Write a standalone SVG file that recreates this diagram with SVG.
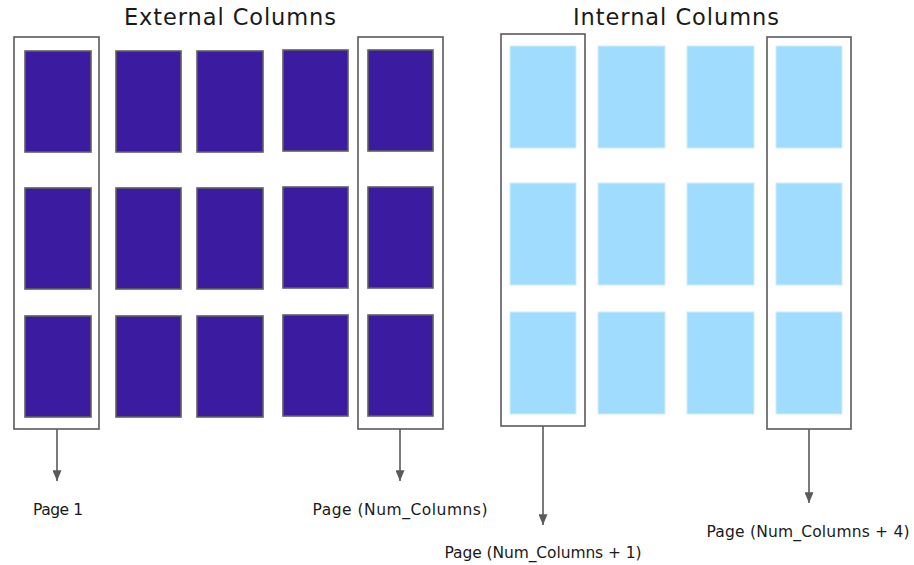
<svg xmlns="http://www.w3.org/2000/svg" width="914" height="565" viewBox="0 0 914 565">
  <defs>
    <style>
      .title { font-family: "DejaVu Sans", "Liberation Sans", sans-serif; font-size: 22.5px; fill: #1a1a1a; }
      .label { font-family: "DejaVu Sans", "Liberation Sans", sans-serif; font-size: 15.5px; fill: #1a1a1a; }
      .frame { fill: none; stroke: #5a5a5a; stroke-width: 1.6; }
      .ext { fill: #3b1ca0; stroke: #5f5f5f; stroke-width: 1.6; }
      .int { fill: #9fdcfd; stroke: #cfeefd; stroke-width: 1; }
      .link { stroke: #5a5a5a; stroke-width: 1.6; fill: none; marker-end: url(#arrow); }
    </style>
    <marker id="arrow" viewBox="0 0 12 10" refX="12" refY="5" markerWidth="12" markerHeight="9" markerUnits="userSpaceOnUse" orient="auto">
      <path d="M0,0 L12,5 L0,10 z" fill="#5a5a5a"/>
    </marker>
  </defs>

  <!-- External columns -->
  <text class="title" x="230" y="25" text-anchor="middle" textLength="212">External Columns</text>
  <g id="external-pages">
    <rect class="ext" x="25" y="51" width="66" height="101"/>
    <rect class="ext" x="116" y="51" width="65" height="101"/>
    <rect class="ext" x="197" y="51" width="66" height="101"/>
    <rect class="ext" x="283" y="50" width="65" height="101"/>
    <rect class="ext" x="368" y="50" width="65" height="101"/>

    <rect class="ext" x="25" y="188" width="66" height="101"/>
    <rect class="ext" x="116" y="188" width="65" height="101"/>
    <rect class="ext" x="197" y="188" width="66" height="101"/>
    <rect class="ext" x="283" y="187" width="65" height="101"/>
    <rect class="ext" x="368" y="187" width="65" height="101"/>

    <rect class="ext" x="25" y="316" width="66" height="101"/>
    <rect class="ext" x="116" y="316" width="65" height="101"/>
    <rect class="ext" x="197" y="316" width="66" height="101"/>
    <rect class="ext" x="283" y="315" width="65" height="101"/>
    <rect class="ext" x="368" y="315" width="65" height="101"/>
  </g>
  <g id="external-first">
    <rect class="frame" x="14" y="37" width="85" height="392"/>
    <text class="label" x="58" y="515" text-anchor="middle" textLength="50">Page 1</text>
  </g>
  <g id="external-last">
    <rect class="frame" x="358" y="37" width="85" height="392"/>
    <text class="label" x="400" y="515" text-anchor="middle" textLength="175">Page (Num_Columns)</text>
  </g>

  <!-- Internal columns -->
  <text class="title" x="676" y="25" text-anchor="middle" textLength="206">Internal Columns</text>
  <g id="internal-pages">
    <rect class="int" x="510" y="46" width="66" height="102"/>
    <rect class="int" x="598" y="46" width="67" height="102"/>
    <rect class="int" x="687" y="46" width="67" height="102"/>
    <rect class="int" x="776" y="46" width="66" height="102"/>

    <rect class="int" x="510" y="183" width="66" height="102"/>
    <rect class="int" x="598" y="183" width="67" height="102"/>
    <rect class="int" x="687" y="183" width="67" height="102"/>
    <rect class="int" x="776" y="183" width="66" height="102"/>

    <rect class="int" x="510" y="312" width="66" height="102"/>
    <rect class="int" x="598" y="312" width="67" height="102"/>
    <rect class="int" x="687" y="312" width="67" height="102"/>
    <rect class="int" x="776" y="312" width="66" height="102"/>
  </g>
  <g id="internal-first">
    <rect class="frame" x="501" y="34" width="84" height="392"/>
    <text class="label" x="543" y="558" text-anchor="middle" textLength="197">Page (Num_Columns + 1)</text>
  </g>
  <g id="internal-last">
    <rect class="frame" x="767" y="37" width="84" height="392"/>
    <text class="label" x="808" y="537" text-anchor="middle" textLength="203">Page (Num_Columns + 4)</text>
  </g>

  <!-- Connectors -->
  <g id="connectors">
    <line class="link" x1="57" y1="429" x2="57" y2="481"/>
    <line class="link" x1="400" y1="429" x2="400" y2="481"/>
    <line class="link" x1="543" y1="426" x2="543" y2="525"/>
    <line class="link" x1="809" y1="429" x2="809" y2="503"/>
  </g>
</svg>
